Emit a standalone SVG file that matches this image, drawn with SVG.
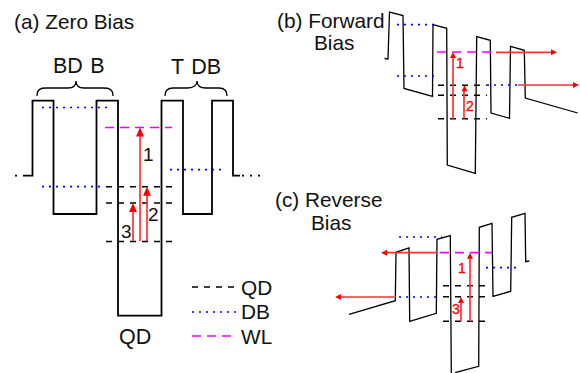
<svg xmlns="http://www.w3.org/2000/svg" width="580" height="373" viewBox="0 0 580 373">
<style>
text{font-family:"Liberation Sans",Arial,sans-serif;fill:#111}
.t{font-size:20.8px}
.w{font-size:21.5px;word-spacing:1.5px}
.n{font-size:19px}
.band{fill:none;stroke:#000;stroke-width:1.8}
.thin{fill:none;stroke:#000;stroke-width:1.3}
.qd{stroke:#000;stroke-width:1.5;stroke-dasharray:6 6;fill:none}
.db{stroke:#00f;stroke-width:1.7;stroke-dasharray:2 5;fill:none}
.wl{stroke:#f0f;stroke-width:1.7;stroke-dasharray:9 6;fill:none}
.ar{stroke:#f33;stroke-width:1.7;fill:none}
.hd{fill:#f00}
.r{fill:#f00;font-size:14px;stroke:#f00;stroke-width:.3}
</style>
<g id="panel-a">
<text class="t" x="14" y="29">(a) Zero Bias</text>
<text class="w" x="53" y="73">BD B</text>
<text class="w" x="171" y="74">T DB</text>
<path class="thin" d="M37 96C37 89 41 88 46 88H68C73 88 76 86 76 81C76 86 79 88 84 88H103C109 88 113 89 113 96"/>
<path class="thin" d="M165 96C165 90 168 88 173 88H187C192 88 197 86 197 81C197 86 201 88 206 88H219C224 88 227 90 227 96"/>
<path class="band" d="M25 175.6H32.5V100.700H53.500V214H96.500V100.700H118V315.700H161.500V100.700H183V214H212V100.700H233V175.600H240"/>
<path class="band" stroke-dasharray="2 6" d="M15 175.600H25M242 175.600H262"/>
<path class="db" d="M42 107.500H112M42 186.700H104M170 169.700H224"/>
<path class="wl" d="M105 127.500H172"/>
<path class="qd" d="M106 186.700H172M106 203H172M106 241.500H172"/>
<path class="ar" d="M140 241V135M147 241V195M133 241V211"/>
<path class="hd" d="M140 127.500l-4 9h8zM147 186.700l-4 9h8zM133 203l-4 9h8z"/>
<text class="n" x="143" y="161">1</text>
<text class="n" x="148" y="221">2</text>
<text class="n" x="121" y="238">3</text>
<text class="w" x="119" y="344">QD</text>
</g>
<g id="legend">
<path class="qd" d="M192 287H236"/>
<path class="db" d="M192 312H236"/>
<path class="wl" d="M192 336H236"/>
<text class="t" x="241" y="295">QD</text>
<text class="t" x="241" y="319">DB</text>
<text class="t" x="241" y="344">WL</text>
</g>
<g id="panel-b">
<text class="t" x="277" y="28">(b) Forward</text>
<text class="t" x="314" y="50">Bias</text>
<path class="thin" stroke-width="1.5" d="M384.500 58.500L388 59L389.500 12L403 15.500L404 88.500L432.500 96.300L433 24.700L446.700 28.300L447.300 165L475.300 173.300L476.700 36.700L490.300 40.300L491 113L509.500 118.300L510.500 46.300L524.300 50.300L525.300 98L577.700 113"/>
<path class="db" d="M397 24.700H436M397 76H437M487 85H520"/>
<path class="wl" d="M437 52H491"/>
<path class="qd" d="M438 85.300H487M438 95.300H487M438 118.700H487"/>
<path class="ar" d="M453 118.700V58M464 118.700V91M496 52.300H554M518 85H574"/>
<path class="hd" d="M453 52l-3 6h6zM464.500 85.300l-3 6h6zM557 52.300l-6-3v6zM579 85l-6-3v6z"/>
<text class="r" x="456" y="68">1</text>
<text class="r" x="466" y="111">2</text>
</g>
<g id="panel-c">
<text class="t" x="275" y="207">(c) Reverse</text>
<text class="t" x="311" y="230">Bias</text>
<path class="thin" stroke-width="1.5" d="M349 314.300L395.300 300.700L396 252.300L409 248L409.700 321.300L436.300 313.300L437 239.300L450.300 235.700L451.300 373M455 372.700L478.700 366.300L479.300 227.300L492 223.300L493 296.300L510.700 291.300L511.700 217.300L525 213.300L525.700 261.700L529.300 261"/>
<path class="db" d="M399 237H442M399 297H441M486 267.700H520"/>
<path class="wl" d="M440 252.700H492"/>
<path class="qd" d="M443 285.700H490M443 296.700H490M443 321.300H490"/>
<path class="ar" d="M470 321.300V258M461 321.300V303M386 252.700H437M340 297H396"/>
<path class="hd" d="M470 252.700l-3 6h6zM461 297l-3 6h6zM381 252.700l6-3v6zM335 297l6-3v6z"/>
<text class="r" x="458" y="273">1</text>
<text class="r" x="452" y="314">3</text>
</g>
</svg>
